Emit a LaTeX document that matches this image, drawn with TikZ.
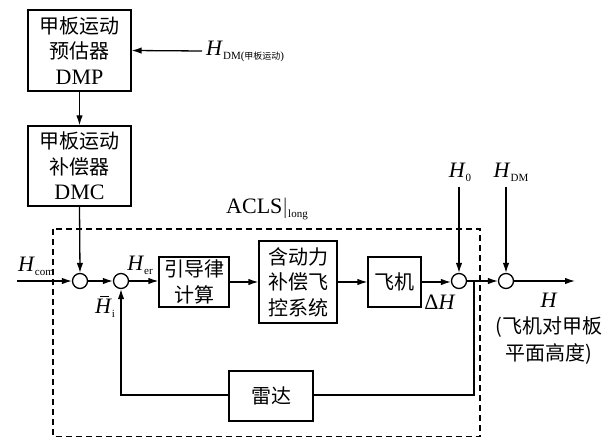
\documentclass[tikz,border=0pt]{standalone}
\usepackage{fontspec}
\setmainfont{Liberation Serif}
\newfontfamily\cjk{Noto Sans CJK SC}
\usetikzlibrary{arrows.meta}
\newcommand{\subtx}[1]{\raisebox{-4pt}{\fontsize{11}{12}\selectfont #1}}
\newcommand{\itH}{\textit{H}}
\newcommand{\barH}{\makebox[0pt][l]{\hspace{5pt}\raisebox{17pt}{\rule{9pt}{0.9pt}}}\itH}
\begin{document}
\begin{tikzpicture}[x=1pt,y=-1pt,
  blk/.style={draw,line width=1.3pt,inner sep=0pt,align=center,font=\fontsize{20}{25.5}\selectfont\cjk},
  sumc/.style={draw,line width=1.3pt,circle,minimum size=15pt,inner sep=0pt},
  arr/.style={line width=1.3pt,-{Latex[length=10pt,width=6.5pt]}},
  ln/.style={line width=1.3pt},
  lbl/.style={inner sep=0pt,font=\fontsize{22}{24}\selectfont}]
\useasboundingbox (0,0) rectangle (607,438);
% blocks
\node[blk,minimum width=103pt,minimum height=81pt] (dmp) at (79.5,50.5) {甲板运动\\预估器\\{\rmfamily\fontsize{22}{25.5}\selectfont DMP}};
\node[blk,minimum width=103pt,minimum height=80pt] (dmc) at (79.5,166) {甲板运动\\补偿器\\{\rmfamily\fontsize{22}{25.5}\selectfont DMC}};
\node[blk,minimum width=70pt,minimum height=50pt] (gl) at (194,282) {引导律\\计算};
\node[blk,minimum width=78pt,minimum height=82pt] (fcs) at (298,282) {含动力\\补偿飞\\控系统};
\node[blk,minimum width=53pt,minimum height=50pt] (ac) at (394.5,282) {飞机};
\node[blk,minimum width=84pt,minimum height=50pt] (rd) at (271,396) {雷达};
% sums
\node[sumc] (s1) at (80,281) {};
\node[sumc] (s2) at (121,281) {};
\node[sumc] (s3) at (459,281) {};
\node[sumc] (s4) at (506,281) {};
% coordinates
\coordinate (hdmin) at (202,51);
\coordinate (hin) at (17,281);
\coordinate (hout) at (575,281);
\coordinate (h0in) at (459,187);
\coordinate (hdmtop) at (506,187);
\coordinate (br) at (474,281);
\coordinate (brd) at (474,395);
\coordinate (fbl) at (121,395);
% dashed box
\draw[line width=1.3pt,dash pattern=on 6pt off 4pt] (53,229) rectangle (480,436.5);
% connectors
\draw[arr] (hdmin) -- (dmp.east);
\draw[arr] (dmp.south) -- (dmc.north);
\draw[arr] (dmc.south) -- (s1.north);
\draw[arr] (hin) -- (s1.west);
\draw[arr] (s1.east) -- (s2.west);
\draw[arr] (s2.east) -- (s2.east -| gl.west);
\draw[arr] (gl.east) -- (gl.east -| fcs.west);
\draw[arr] (fcs.east) -- (fcs.east -| ac.west);
\draw[arr] (ac.east) -- (ac.east -| s3.west);
\draw[arr] (s3.east) -- (s4.west);
\draw[arr] (s4.east) -- (hout);
\draw[arr] (h0in) -- (s3.north);
\draw[arr] (hdmtop) -- (s4.north);
\draw[ln] (br) -- (brd) -- (brd -| rd.east);
\draw[arr] (rd.west |- fbl) -- (fbl) -- (s2.south);
% labels
\node[lbl,anchor=west] (lhdm) at (206,51) {\itH\raisebox{-4pt}{\fontsize{11}{12}\selectfont DM(\cjk\fontsize{9}{10}\selectfont 甲板运动\rmfamily\fontsize{11}{12}\selectfont)}};
\node[lbl] (lhcom) at (36,266) {\itH\subtx{com}};
\node[lbl] (lher) at (140,265) {\itH\subtx{er}};
\node[lbl] (lhi) at (105,307) {\barH\subtx{i}};
\node[lbl] (lacls) at (267,209) {ACLS$|$\subtx{long}};
\node[lbl] (lh0) at (460,172) {\itH\subtx{0}};
\node[lbl] (lhdm2) at (511,172) {\itH\subtx{DM}};
\node[lbl] (ldh) at (440,302) {Δ\itH};
\node[lbl] (lh) at (549,300) {\itH};
\node[lbl,align=center,font=\fontsize{20}{27}\selectfont\cjk] (lhtxt) at (549,341) {(飞机对甲板\\平面高度)};
\end{tikzpicture}
\end{document}
